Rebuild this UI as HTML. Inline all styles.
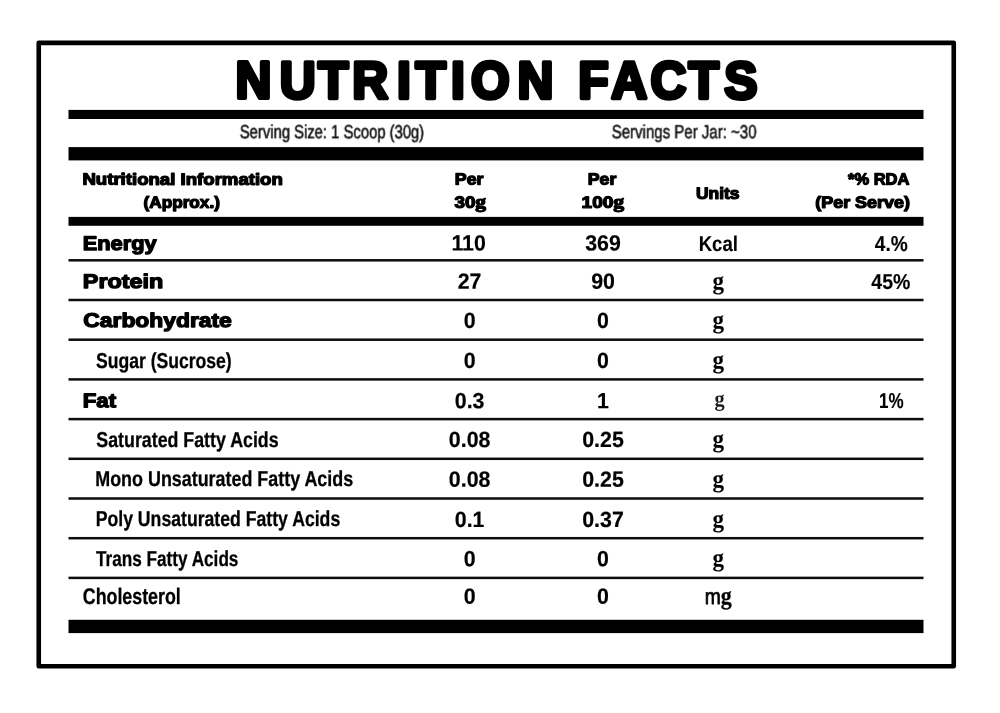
<!DOCTYPE html>
<html lang="en">
<head>
<meta charset="utf-8">
<title>Nutrition Facts</title>
<style>
html,body{margin:0;padding:0;background:#fff;}
body{width:1000px;height:713px;overflow:hidden;}
svg{display:block;}
text{font-family:"Liberation Sans", Arial, sans-serif;stroke-linejoin:round;paint-order:stroke fill;text-rendering:geometricPrecision;}
</style>
</head>
<body>
<svg width="1000" height="713" viewBox="0 0 1000 713">
<rect x="0" y="0" width="1000" height="713" fill="#fff"/>
<defs><filter id="soft" x="0" y="0" width="1000" height="713" filterUnits="userSpaceOnUse" color-interpolation-filters="sRGB"><feGaussianBlur stdDeviation="0.45"/></filter></defs>
<filter id="soft2" x="-5%" y="-30%" width="110%" height="160%" color-interpolation-filters="sRGB"><feGaussianBlur stdDeviation="0.55"/></filter>
<g filter="url(#soft)">
<rect x="38.75" y="42.85" width="915" height="623.4" fill="none" stroke="#000" stroke-width="4.6" stroke-linejoin="round"/>
<rect x="68.5" y="109.9" width="855" height="9.1" fill="#000"/>
<rect x="68.5" y="147.1" width="855" height="13.3" fill="#000"/>
<rect x="68.5" y="216.9" width="855" height="8.9" fill="#000"/>
<rect x="68.5" y="619.8" width="855" height="13.3" fill="#000"/>
<rect x="68.5" y="259.05" width="855" height="2.5" fill="#0d0d0d"/>
<rect x="68.5" y="298.75" width="855" height="2.5" fill="#0d0d0d"/>
<rect x="68.5" y="338.45" width="855" height="2.5" fill="#0d0d0d"/>
<rect x="68.5" y="378.15" width="855" height="2.5" fill="#0d0d0d"/>
<rect x="68.5" y="417.85" width="855" height="2.5" fill="#0d0d0d"/>
<rect x="68.5" y="457.55" width="855" height="2.5" fill="#0d0d0d"/>
<rect x="68.5" y="497.25" width="855" height="2.5" fill="#0d0d0d"/>
<rect x="68.5" y="536.95" width="855" height="2.5" fill="#0d0d0d"/>
<rect x="68.5" y="576.65" width="855" height="2.5" fill="#0d0d0d"/>
<text id="title" transform="rotate(0.03) scale(0.95 1)" x="266.75 313.39 350.78 389.63 425.21 453.41 482.05 516.18 563.75 595.79 624.73 662.25 703.70 740.88 779.79" y="98.00" font-size="52.3" font-weight="700" text-anchor="middle" fill="#000" stroke="#000" stroke-width="4.0" stroke-linejoin="miter" stroke-miterlimit="2.5">NUTRITION FACTS</text>
<text id="serv1" transform="translate(239.82 138.20) rotate(0.03) scale(0.7789 1)" font-size="19.0" font-weight="400" text-anchor="start" fill="#111" stroke="#111" stroke-width="0.55" filter="url(#soft2)">Serving Size: 1 Scoop (30g)</text>
<text id="serv2" transform="translate(611.74 138.20) rotate(0.03) scale(0.7899 1)" font-size="19.0" font-weight="400" text-anchor="start" fill="#111" stroke="#111" stroke-width="0.55" filter="url(#soft2)">Servings Per Jar: ~30</text>
<text id="h1a" transform="translate(82.39 184.60) rotate(0.03) scale(1.1490 1)" font-size="16.2" font-weight="700" text-anchor="start" fill="#000" stroke="#000" stroke-width="1.25">Nutritional Information</text>
<text id="h1b" transform="translate(181.73 207.70) rotate(0.03) scale(1.0617 1)" font-size="16.2" font-weight="700" text-anchor="middle" fill="#000" stroke="#000" stroke-width="1.25">(Approx.)</text>
<text id="h2a" transform="translate(469.11 184.60) rotate(0.03) scale(1.0958 1)" font-size="16.2" font-weight="700" text-anchor="middle" fill="#000" stroke="#000" stroke-width="1.25">Per</text>
<text id="h2b" transform="translate(470.25 207.70) rotate(0.03) scale(1.1557 1)" font-size="16.2" font-weight="700" text-anchor="middle" fill="#000" stroke="#000" stroke-width="1.25">30<tspan style='font-family:"Liberation Serif", "Times New Roman", serif' font-size='18.5'>g</tspan></text>
<text id="h3a" transform="translate(602.06 184.60) rotate(0.03) scale(1.0920 1)" font-size="16.2" font-weight="700" text-anchor="middle" fill="#000" stroke="#000" stroke-width="1.25">Per</text>
<text id="h3b" transform="translate(602.83 207.70) rotate(0.03) scale(1.1728 1)" font-size="16.2" font-weight="700" text-anchor="middle" fill="#000" stroke="#000" stroke-width="1.25">100<tspan style='font-family:"Liberation Serif", "Times New Roman", serif' font-size='18.5'>g</tspan></text>
<text id="h4" transform="translate(717.68 198.80) rotate(0.03) scale(1.0762 1)" font-size="16.2" font-weight="700" text-anchor="middle" fill="#000" stroke="#000" stroke-width="1.25">Units</text>
<text id="h5a" transform="translate(909.36 184.60) rotate(0.03) scale(1.0171 1)" font-size="16.2" font-weight="700" text-anchor="end" fill="#000" stroke="#000" stroke-width="1.25">*% RDA</text>
<text id="h5b" transform="translate(909.85 207.70) rotate(0.03) scale(1.1060 1)" font-size="16.2" font-weight="700" text-anchor="end" fill="#000" stroke="#000" stroke-width="1.25">(Per Serve)</text>
<text id="r0l" transform="translate(82.71 250.00) rotate(0.03) scale(1.1036 1)" font-size="19.8" font-weight="700" text-anchor="start" fill="#000" stroke="#000" stroke-width="1.3">Energy</text>
<text id="r0a" transform="translate(468.60 250.55) rotate(0.03) scale(0.9700 1)" font-size="22.0" font-weight="700" text-anchor="middle" fill="#000" stroke="#000" stroke-width="0.2">110</text>
<text id="r0b" transform="translate(603.00 250.55) rotate(0.03) scale(0.9700 1)" font-size="22.0" font-weight="700" text-anchor="middle" fill="#000" stroke="#000" stroke-width="0.2">369</text>
<text id="r0u" transform="translate(718.26 250.55) rotate(0.03) scale(0.8682 1)" font-size="21.4" font-weight="700" text-anchor="middle" fill="#000" stroke="#000" stroke-width="0.15">Kcal</text>
<text id="r0r" transform="translate(891.26 250.55) rotate(0.03) scale(0.8846 1)" font-size="21.6" font-weight="700" text-anchor="middle" fill="#000" stroke="#000" stroke-width="0.15">4.%</text>
<text id="r1l" transform="translate(82.85 288.00) rotate(0.03) scale(1.1810 1)" font-size="19.8" font-weight="700" text-anchor="start" fill="#000" stroke="#000" stroke-width="1.3">Protein</text>
<text id="r1a" transform="translate(469.60 288.80) rotate(0.03) scale(0.9700 1)" font-size="22.0" font-weight="700" text-anchor="middle" fill="#000" stroke="#000" stroke-width="0.2">27</text>
<text id="r1b" transform="translate(603.00 288.80) rotate(0.03) scale(0.9700 1)" font-size="22.0" font-weight="700" text-anchor="middle" fill="#000" stroke="#000" stroke-width="0.2">90</text>
<text id="r1u" transform="translate(718.30 288.90) rotate(0.03) scale(0.9200 1)" font-size="25" font-weight="700" text-anchor="middle" fill="#000" stroke="#000" stroke-width="0.1" style='font-family:"Liberation Serif", "Times New Roman", serif'>g</text>
<text id="r1r" transform="translate(890.86 288.80) rotate(0.03) scale(0.9025 1)" font-size="21.6" font-weight="700" text-anchor="middle" fill="#000" stroke="#000" stroke-width="0.15">45%</text>
<text id="r2l" transform="translate(83.30 327.00) rotate(0.03) scale(1.1545 1)" font-size="19.8" font-weight="700" text-anchor="start" fill="#000" stroke="#000" stroke-width="1.3">Carbohydrate</text>
<text id="r2a" transform="translate(469.60 328.05) rotate(0.03) scale(0.9700 1)" font-size="22.0" font-weight="700" text-anchor="middle" fill="#000" stroke="#000" stroke-width="0.2">0</text>
<text id="r2b" transform="translate(603.00 328.05) rotate(0.03) scale(0.9700 1)" font-size="22.0" font-weight="700" text-anchor="middle" fill="#000" stroke="#000" stroke-width="0.2">0</text>
<text id="r2u" transform="translate(718.30 328.15) rotate(0.03) scale(0.9200 1)" font-size="25" font-weight="700" text-anchor="middle" fill="#000" stroke="#000" stroke-width="0.1" style='font-family:"Liberation Serif", "Times New Roman", serif'>g</text>
<text id="r3l" transform="translate(95.93 367.60) rotate(0.03) scale(0.8140 1)" font-size="21.6" font-weight="700" text-anchor="start" fill="#000" stroke="#000" stroke-width="0.3">Sugar (Sucrose)</text>
<text id="r3a" transform="translate(469.60 368.05) rotate(0.03) scale(0.9700 1)" font-size="22.0" font-weight="700" text-anchor="middle" fill="#000" stroke="#000" stroke-width="0.2">0</text>
<text id="r3b" transform="translate(603.00 368.05) rotate(0.03) scale(0.9700 1)" font-size="22.0" font-weight="700" text-anchor="middle" fill="#000" stroke="#000" stroke-width="0.2">0</text>
<text id="r3u" transform="translate(718.30 368.15) rotate(0.03) scale(0.9200 1)" font-size="25" font-weight="700" text-anchor="middle" fill="#000" stroke="#000" stroke-width="0.1" style='font-family:"Liberation Serif", "Times New Roman", serif'>g</text>
<text id="r4l" transform="translate(82.63 407.30) rotate(0.03) scale(1.1263 1)" font-size="19.8" font-weight="700" text-anchor="start" fill="#000" stroke="#000" stroke-width="1.3">Fat</text>
<text id="r4a" transform="translate(469.60 408.25) rotate(0.03) scale(0.9700 1)" font-size="22.0" font-weight="700" text-anchor="middle" fill="#000" stroke="#000" stroke-width="0.2">0.3</text>
<text id="r4b" transform="translate(603.00 408.25) rotate(0.03) scale(0.9700 1)" font-size="22.0" font-weight="700" text-anchor="middle" fill="#000" stroke="#000" stroke-width="0.2">1</text>
<text id="r4u" transform="translate(719.50 406.35) rotate(0.03) scale(0.9000 1)" font-size="22.5" font-weight="700" text-anchor="middle" fill="#1c1c1c" style='font-family:"Liberation Serif", "Times New Roman", serif'>g</text>
<text id="r4r" transform="translate(891.40 408.25) rotate(0.03) scale(0.7884 1)" font-size="21.6" font-weight="700" text-anchor="middle" fill="#000" stroke="#000" stroke-width="0.15">1%</text>
<text id="r5l" transform="translate(96.34 447.00) rotate(0.03) scale(0.8240 1)" font-size="21.6" font-weight="700" text-anchor="start" fill="#000" stroke="#000" stroke-width="0.3">Saturated Fatty Acids</text>
<text id="r5a" transform="translate(469.60 447.05) rotate(0.03) scale(0.9700 1)" font-size="22.0" font-weight="700" text-anchor="middle" fill="#000" stroke="#000" stroke-width="0.2">0.08</text>
<text id="r5b" transform="translate(603.00 447.05) rotate(0.03) scale(0.9700 1)" font-size="22.0" font-weight="700" text-anchor="middle" fill="#000" stroke="#000" stroke-width="0.2">0.25</text>
<text id="r5u" transform="translate(718.30 447.15) rotate(0.03) scale(0.9200 1)" font-size="25" font-weight="700" text-anchor="middle" fill="#000" stroke="#000" stroke-width="0.1" style='font-family:"Liberation Serif", "Times New Roman", serif'>g</text>
<text id="r6l" transform="translate(95.27 486.20) rotate(0.03) scale(0.8289 1)" font-size="21.6" font-weight="700" text-anchor="start" fill="#000" stroke="#000" stroke-width="0.3">Mono Unsaturated Fatty Acids</text>
<text id="r6a" transform="translate(469.60 486.65) rotate(0.03) scale(0.9700 1)" font-size="22.0" font-weight="700" text-anchor="middle" fill="#000" stroke="#000" stroke-width="0.2">0.08</text>
<text id="r6b" transform="translate(603.00 486.65) rotate(0.03) scale(0.9700 1)" font-size="22.0" font-weight="700" text-anchor="middle" fill="#000" stroke="#000" stroke-width="0.2">0.25</text>
<text id="r6u" transform="translate(718.30 486.75) rotate(0.03) scale(0.9200 1)" font-size="25" font-weight="700" text-anchor="middle" fill="#000" stroke="#000" stroke-width="0.1" style='font-family:"Liberation Serif", "Times New Roman", serif'>g</text>
<text id="r7l" transform="translate(95.68 526.20) rotate(0.03) scale(0.8173 1)" font-size="21.6" font-weight="700" text-anchor="start" fill="#000" stroke="#000" stroke-width="0.3">Poly Unsaturated Fatty Acids</text>
<text id="r7a" transform="translate(469.60 527.05) rotate(0.03) scale(0.9700 1)" font-size="22.0" font-weight="700" text-anchor="middle" fill="#000" stroke="#000" stroke-width="0.2">0.1</text>
<text id="r7b" transform="translate(603.00 527.05) rotate(0.03) scale(0.9700 1)" font-size="22.0" font-weight="700" text-anchor="middle" fill="#000" stroke="#000" stroke-width="0.2">0.37</text>
<text id="r7u" transform="translate(718.30 527.15) rotate(0.03) scale(0.9200 1)" font-size="25" font-weight="700" text-anchor="middle" fill="#000" stroke="#000" stroke-width="0.1" style='font-family:"Liberation Serif", "Times New Roman", serif'>g</text>
<text id="r8l" transform="translate(95.99 565.50) rotate(0.03) scale(0.7948 1)" font-size="21.6" font-weight="700" text-anchor="start" fill="#000" stroke="#000" stroke-width="0.3">Trans Fatty Acids</text>
<text id="r8a" transform="translate(469.60 566.35) rotate(0.03) scale(0.9700 1)" font-size="22.0" font-weight="700" text-anchor="middle" fill="#000" stroke="#000" stroke-width="0.2">0</text>
<text id="r8b" transform="translate(603.00 566.35) rotate(0.03) scale(0.9700 1)" font-size="22.0" font-weight="700" text-anchor="middle" fill="#000" stroke="#000" stroke-width="0.2">0</text>
<text id="r8u" transform="translate(718.30 566.45) rotate(0.03) scale(0.9200 1)" font-size="25" font-weight="700" text-anchor="middle" fill="#000" stroke="#000" stroke-width="0.1" style='font-family:"Liberation Serif", "Times New Roman", serif'>g</text>
<text id="r9l" transform="translate(82.78 603.60) rotate(0.03) scale(0.7883 1)" font-size="22.6" font-weight="700" text-anchor="start" fill="#000" stroke="#000" stroke-width="0.3">Cholesterol</text>
<text id="r9a" transform="translate(469.60 603.75) rotate(0.03) scale(0.9700 1)" font-size="22.0" font-weight="700" text-anchor="middle" fill="#000" stroke="#000" stroke-width="0.2">0</text>
<text id="r9b" transform="translate(603.00 603.75) rotate(0.03) scale(0.9700 1)" font-size="22.0" font-weight="700" text-anchor="middle" fill="#000" stroke="#000" stroke-width="0.2">0</text>
<text id="r9u" transform="translate(718.23 603.85) rotate(0.03) scale(0.8748 1)" font-size="22" font-weight="400" text-anchor="middle" fill="#000" stroke="#000" stroke-width="0.8">m<tspan style='font-family:"Liberation Serif", "Times New Roman", serif' font-size='25' font-weight='700' stroke-width='0.3'>g</tspan></text>
</g>
</svg>
</body>
</html>
